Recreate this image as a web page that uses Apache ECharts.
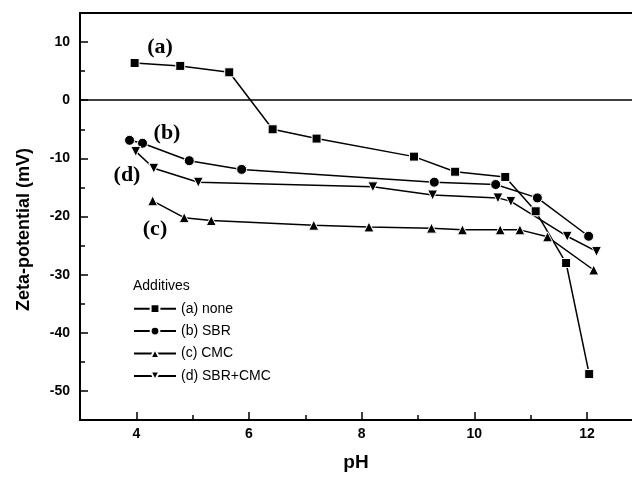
<!DOCTYPE html>
<html>
<head>
<meta charset="utf-8">
<script src="https://cdn.jsdelivr.net/npm/echarts@6/dist/echarts.min.js"></script>
<style>html,body{margin:0;padding:0;background:#fff;}#c{width:632px;height:477px;}</style>
</head>
<body>
<div id="c"></div>
<script>
// ---- data ----
const seriesNames = ['(a) none', '(b) SBR', '(c) CMC', '(d) SBR+CMC'];
const phA = [3.97, 4.78, 5.65, 6.42, 7.20, 8.93, 9.66, 10.55, 11.09, 11.63, 12.04];
const zetaA = [6.4, 5.9, 4.8, -5.0, -6.6, -9.7, -12.3, -13.2, -19.1, -28.0, -47.1];
const phB = [3.88, 4.11, 4.94, 5.87, 9.29, 10.38, 11.12, 12.03];
const zetaB = [-6.9, -7.4, -10.4, -11.9, -14.1, -14.5, -16.8, -23.4];
const phC = [4.29, 4.85, 5.33, 7.15, 8.13, 9.24, 9.79, 10.46, 10.81, 11.30, 12.12];
const zetaC = [-17.3, -20.2, -20.7, -21.5, -21.8, -22.0, -22.3, -22.3, -22.3, -23.5, -29.2];
const phD = [3.99, 4.31, 5.10, 8.20, 9.26, 10.42, 10.65, 11.65, 12.17];
const zetaD = [-8.8, -11.7, -14.1, -14.9, -16.3, -16.8, -17.4, -23.4, -26.0];
const xMajorTicks = [4, 6, 8, 10, 12];
const xMinorTicks = [5, 7, 9, 11];
const yMajorTicks = [-50, -40, -30, -20, -10, 0, 10];
const yMinorTicks = [-45, -35, -25, -15, -5, 5];
const curveLabels = ['(a)', '(b)', '(c)', '(d)'];

const pair = (xs, ys) => xs.map((x, i) => [x, ys[i]]);
const sans = 'Liberation Sans';

const baseSeries = (name, data, symbol, size, rotate) => ({
  name, type: 'line', data, symbol, symbolSize: size, symbolRotate: rotate || 0,
  lineStyle: { color: '#000', width: 1.5 },
  itemStyle: { color: '#000', borderColor: '#fff', borderWidth: 1 },
  emphasis: { disabled: true },
  animation: false
});

const sA = baseSeries(seriesNames[0], pair(phA, zetaA), 'rect', 9);
sA.markLine = {
  silent: true, symbol: 'none', animation: false,
  label: { show: false },
  lineStyle: { color: '#000', width: 1.5, type: 'solid' },
  data: [{ yAxis: 0 }]
};

const chart = echarts.init(document.getElementById('c'));
chart.setOption({
  animation: false,
  backgroundColor: '#fff',
  grid: { left: 80, top: 13, right: -1, bottom: 50 },
  xAxis: [
    {
      type: 'value', min: 3, max: 12.8, position: 'bottom',
      axisLine: { onZero: false, lineStyle: { color: '#000', width: 2 } },
      axisTick: { inside: true, length: 8, customValues: xMajorTicks, lineStyle: { color: '#000', width: 1.5 } },
      axisLabel: { customValues: xMajorTicks, color: '#000', fontFamily: sans, fontWeight: 'bold', fontSize: 14, margin: 7 },
      splitLine: { show: false },
      name: 'pH', nameLocation: 'middle', nameGap: 33,
      nameTextStyle: { color: '#000', fontFamily: sans, fontWeight: 'bold', fontSize: 19 }
    },
    {
      type: 'value', min: 3, max: 12.8, position: 'bottom',
      axisLine: { show: false, onZero: false },
      axisTick: { inside: true, length: 5, customValues: xMinorTicks, lineStyle: { color: '#000', width: 1.5 } },
      axisLabel: { show: false },
      splitLine: { show: false }
    },
    {
      type: 'value', min: 3, max: 12.8, position: 'top',
      axisLine: { show: true, onZero: false, lineStyle: { color: '#000', width: 2 } },
      axisTick: { show: false },
      axisLabel: { show: false },
      splitLine: { show: false }
    }
  ],
  yAxis: [
    {
      type: 'value', min: -55, max: 15, position: 'left',
      axisLine: { onZero: false, lineStyle: { color: '#000', width: 2 } },
      axisTick: { inside: true, length: 8, customValues: yMajorTicks, lineStyle: { color: '#000', width: 1.5 } },
      axisLabel: { customValues: yMajorTicks, color: '#000', fontFamily: sans, fontWeight: 'bold', fontSize: 14, margin: 10 },
      splitLine: { show: false },
      name: 'Zeta-potential (mV)', nameLocation: 'middle', nameGap: 47,
      nameTextStyle: { color: '#000', fontFamily: sans, fontWeight: 'bold', fontSize: 18, padding: [0, 26, 0, 0] }
    },
    {
      type: 'value', min: -55, max: 15, position: 'left',
      axisLine: { show: false, onZero: false },
      axisTick: { inside: true, length: 5, customValues: yMinorTicks, lineStyle: { color: '#000', width: 1.5 } },
      axisLabel: { show: false },
      splitLine: { show: false }
    }
  ],
  legend: {
    orient: 'vertical', left: 133, top: 301, padding: 0,
    itemWidth: 42, itemHeight: 11, itemGap: 7,
    textStyle: { color: '#000', fontFamily: sans, fontSize: 14, lineHeight: 15.4 },
    data: seriesNames
  },
  graphic: [
    { type: 'text', left: 133, top: 279, style: { text: 'Additives', fill: '#000', font: '14px "Liberation Sans"' } },
    { type: 'text', x: 160, y: 47, style: { text: curveLabels[0], fill: '#000', font: 'bold 22px "Liberation Serif"', textAlign: 'center', textVerticalAlign: 'middle' } },
    { type: 'text', x: 167, y: 133, style: { text: curveLabels[1], fill: '#000', font: 'bold 22px "Liberation Serif"', textAlign: 'center', textVerticalAlign: 'middle' } },
    { type: 'text', x: 155, y: 229, style: { text: curveLabels[2], fill: '#000', font: 'bold 22px "Liberation Serif"', textAlign: 'center', textVerticalAlign: 'middle' } },
    { type: 'text', x: 127, y: 175, style: { text: curveLabels[3], fill: '#000', font: 'bold 22px "Liberation Serif"', textAlign: 'center', textVerticalAlign: 'middle' } }
  ],
  series: [
    sA,
    baseSeries(seriesNames[1], pair(phB, zetaB), 'circle', 10),
    baseSeries(seriesNames[2], pair(phC, zetaC), 'triangle', 10),
    baseSeries(seriesNames[3], pair(phD, zetaD), 'triangle', 10, 180)
  ]
});
</script>
</body>
</html>
